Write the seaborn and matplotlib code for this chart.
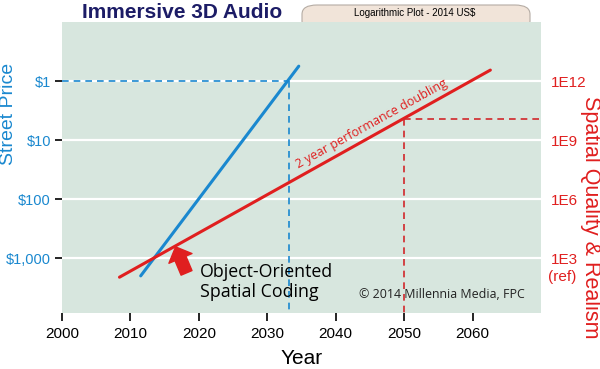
import numpy as np
import pandas as pd
import seaborn as sns
import matplotlib.pyplot as plt
from matplotlib.patches import FancyBboxPatch, FancyArrowPatch

# ---- data ----
price_years = [2011.5, 2034.6]
price_values = [2000, 0.56]
quality_years = [2008.4, 2062.6]
quality_values = [1.07e2, 3.6e12]

price_ref_year = 2033.2
price_ref_value = 1
quality_ref_year = 2050
quality_ref_value = 1.2e10

x_ticks = [2000, 2010, 2020, 2030, 2040, 2050, 2060]
price_ticks = [1, 10, 100, 1000]
price_labels = ["$1", "$10", "$100", "$1,000"]
quality_ticks = [1e3, 1e6, 1e9, 1e12]
quality_labels = ["1E3", "1E6", "1E9", "1E12"]

BLUE = "#1a88cf"
RED = "#e01f1f"
DRED = "#d2262b"
BG = "#d7e6de"
NAVY = "#1c1c66"

sns.set_theme(style="white", rc={"axes.facecolor": BG})
plt.rcParams["font.family"] = ["Liberation Sans", "DejaVu Sans"]

fig = plt.figure(figsize=(6, 3.69), dpi=100)
ax = fig.add_axes([62 / 600, 1 - 313 / 369, (541 - 62) / 600, (313 - 22) / 369])
ax.set_facecolor(BG)

df_price = pd.DataFrame({"year": price_years, "price": price_values})
sns.lineplot(data=df_price, x="year", y="price", ax=ax, color=BLUE, linewidth=2.2)
ax.set_yscale("log")
ax.set_xlim(2000, 2070)
ax.set_ylim(10 ** 3.93, 0.1)
ax.set_yticks(price_ticks)
ax.set_yticklabels(price_labels)
ax.set_xticks(x_ticks)
ax.set_xticklabels([str(x) for x in x_ticks])
ax.minorticks_off()
ax.yaxis.grid(True, color="white", linewidth=1.6)
ax.xaxis.grid(False)
ax.set_axisbelow(True)
for s in ax.spines.values():
    s.set_visible(False)
ax.tick_params(axis="y", which="both", direction="out", length=5, width=1.2,
               color="black", labelcolor=BLUE, labelsize=10.5, pad=3, left=True)
ax.tick_params(axis="x", direction="out", length=6, width=1.2, color="black",
               labelcolor="black", labelsize=11, pad=4, bottom=True)
ax.set_xlabel("Year", fontsize=15, color="black", labelpad=6)
ax.set_ylabel("Street Price", fontsize=14, color=BLUE)
ax.yaxis.set_label_coords((9 - 62) / 479, (313 - 114) / 291)
ax.yaxis.label.set_verticalalignment("center")

# blue reference dashes
ax.plot([2000, price_ref_year], [price_ref_value, price_ref_value], color=BLUE,
        linestyle=(0, (4, 3)), linewidth=1.2)
ax.plot([price_ref_year, price_ref_year], [price_ref_value, 10 ** 3.93], color=BLUE,
        linestyle=(0, (4, 3)), linewidth=1.2)

# right axis
ax2 = ax.twinx()
df_q = pd.DataFrame({"year": quality_years, "quality": quality_values})
sns.lineplot(data=df_q, x="year", y="quality", ax=ax2, color=RED, linewidth=2.2)
ax2.set_yscale("log")
ax2.set_ylim(10 ** 0.21, 1e15)
ax2.set_yticks(quality_ticks)
ax2.set_yticklabels(quality_labels)
ax2.minorticks_off()
ax2.grid(False)
for s in ax2.spines.values():
    s.set_visible(False)
ax2.tick_params(axis="y", which="both", length=0, labelcolor=RED, labelsize=11, pad=7, right=True)
ax2.set_ylabel("Spatial Quality & Realism", fontsize=15.5, color=RED, rotation=270)
ax2.yaxis.set_label_coords((590 - 62) / 479, (313 - 217) / 291)
ax2.yaxis.label.set_verticalalignment("center")
ax2.annotate("(ref)", xy=(1, 1e3), xycoords=("axes fraction", "data"), xytext=(5, -13.5),
             textcoords="offset points", ha="left", va="center", color=RED, fontsize=11)

ax2.plot([quality_ref_year, 2070], [quality_ref_value, quality_ref_value], color=DRED,
         linestyle=(0, (4, 3)), linewidth=1.2)
ax2.plot([quality_ref_year, quality_ref_year], [quality_ref_value, 10 ** 0.21], color=DRED,
         linestyle=(0, (4, 3)), linewidth=1.2)

ax2.text(2045.3, 10 ** (12 - 3 * 0.73), "2 year performance doubling", color=RED,
         fontsize=9, rotation=29, rotation_mode="anchor", ha="center", va="center",
         family=["Open Sans", "DejaVu Sans"])

# fat arrow
arrow = FancyArrowPatch((2018.2, 10 ** 3.25), (2016.6, 10 ** 2.81),
                        arrowstyle="simple,head_length=0.9,head_width=1.8,tail_width=0.85",
                        mutation_scale=10, color=RED, shrinkA=0, shrinkB=0,
                        transform=ax.transData, zorder=5)
ax.add_patch(arrow)

ax.text(2020.1, 10 ** 3.41, "Object-Oriented\nSpatial Coding", fontsize=12.8,
        color="black", ha="left", va="center", linespacing=1.15,
        family=["Open Sans", "DejaVu Sans"])
ax.text(0.967, 0.063, "\u00a9 2014 Millennia Media, FPC", transform=ax.transAxes,
        fontsize=8.9, color="#222222", ha="right", va="center",
        family=["Open Sans", "DejaVu Sans"])

# title
fig.text(182 / 600, 1 - 12 / 369, "Immersive 3D Audio", fontsize=15, fontweight="bold",
         color=NAVY, ha="center", va="center")

# header box (behind plot)
box = FancyBboxPatch((302 / 600, 1 - 30 / 369), (530 - 302) / 600, 25 / 369,
                     boxstyle="round,pad=0,rounding_size=0.025", transform=fig.transFigure,
                     facecolor="#f1e4d9", edgecolor="#b5aca4", linewidth=0.8, zorder=-1)
fig.patches.append(box)
fig.text(415 / 600, 1 - 13.5 / 369, "Logarithmic Plot - 2014 US$", fontsize=7,
         color="black", ha="center", va="center")

fig.savefig("out.png", dpi=100, facecolor="white")
